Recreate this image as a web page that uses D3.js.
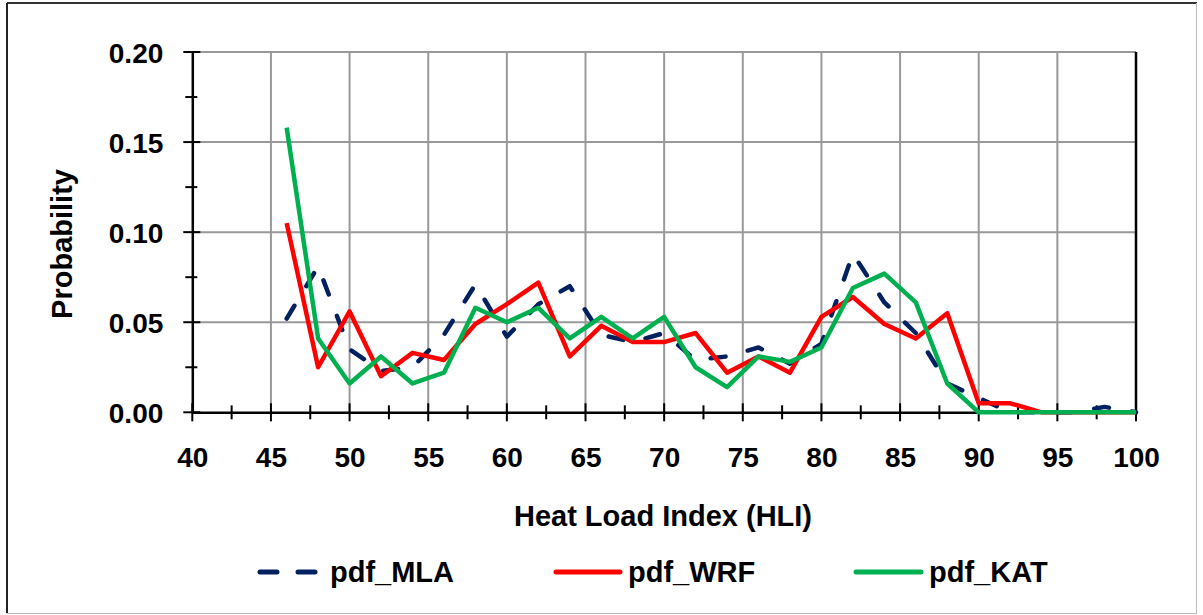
<!DOCTYPE html>
<html>
<head>
<meta charset="utf-8">
<script src="https://cdn.jsdelivr.net/npm/d3@7"></script>
<style>
  html, body { margin: 0; padding: 0; background: #fff; }
  svg text { font-family: "Liberation Sans", Arial, sans-serif; font-weight: bold; fill: #000; }
</style>
</head>
<body>
<svg id="chart" width="1203" height="615"></svg>
<script>
// ---- data ----
const hli = [46,48,50,52,54,56,58,60,62,64,66,68,70,72,74,76,78,80,82,84,86,88,90,92,94,96,98,100];
const pdfMLA = [0.052,0.081,0.035,0.023,0.025,0.043,0.071,0.042,0.060,0.070,0.043,0.039,0.044,0.029,0.031,0.036,0.027,0.038,0.088,0.061,0.044,0.016,0.008,0.000,0.000,0.000,0.003,0.000];
const pdfWRF = [0.105,0.025,0.056,0.020,0.033,0.029,0.049,0.060,0.072,0.031,0.048,0.039,0.039,0.044,0.022,0.031,0.022,0.053,0.064,0.049,0.041,0.055,0.005,0.005,0.000,0.000,0.000,0.000];
const pdfKAT = [0.158,0.041,0.016,0.031,0.016,0.022,0.058,0.050,0.058,0.041,0.053,0.041,0.053,0.025,0.014,0.031,0.028,0.036,0.069,0.077,0.061,0.016,0.000,0.000,0.000,0.000,0.000,0.000];
const seriesNames = ["pdf_MLA", "pdf_WRF", "pdf_KAT"];
const xTickValues = [40,45,50,55,60,65,70,75,80,85,90,95,100];
const xMinorTicks = [42.5,47.5,52.5,57.5,62.5,67.5,72.5,77.5,82.5,87.5,92.5,97.5];
const yTickValues = [0,0.05,0.10,0.15,0.20];
const yMinorTicks = [0.025,0.075,0.125,0.175];
const xTitle = "Heat Load Index (HLI)";
const yTitle = "Probability";

// ---- layout ----
const svg = d3.select("#chart");
const L = 192.3, R = 1136, T = 52, B = 412.3;
const x = d3.scaleLinear().domain([40, 100]).range([L, R]);
const y = d3.scaleLinear().domain([0, 0.20]).range([B, T]);

// outer frame
svg.append("line").attr("x1",7).attr("y1",3).attr("x2",1197).attr("y2",3).attr("stroke","#333").attr("stroke-width",2);
svg.append("line").attr("x1",7).attr("y1",3).attr("x2",7).attr("y2",613).attr("stroke","#222").attr("stroke-width",2);
svg.append("line").attr("x1",7).attr("y1",613.5).attr("x2",1197).attr("y2",613.5).attr("stroke","#bbb").attr("stroke-width",1);
svg.append("line").attr("x1",1196.5).attr("y1",3).attr("x2",1196.5).attr("y2",613).attr("stroke","#bbb").attr("stroke-width",1);

// gridlines
const grid = svg.append("g").attr("stroke", "#999").attr("stroke-width", 2);
grid.selectAll(".gx").data(xTickValues.filter(d => d > 40 && d < 100)).join("line")
  .attr("x1", d => x(d)).attr("x2", d => x(d)).attr("y1", T).attr("y2", B);
grid.selectAll(".gy").data(yTickValues.filter(d => d > 0)).join("line")
  .attr("x1", L).attr("x2", R).attr("y1", d => y(d)).attr("y2", d => y(d));

// right border of plot
svg.append("line").attr("x1", R).attr("x2", R).attr("y1", T).attr("y2", B).attr("stroke", "#000").attr("stroke-width", 2.5);

// axes
const fmt = d3.format(".2f");
const yAxis = svg.append("g").attr("transform", `translate(${L},0)`)
  .call(d3.axisLeft(y).tickValues(yTickValues).tickFormat(fmt).tickSize(0).tickPadding(29));
yAxis.select(".domain").attr("stroke", "#000").attr("stroke-width", 2.5);
yAxis.selectAll("text").attr("font-size", 28).attr("dy", "0.38em");

const xAxis = svg.append("g").attr("transform", `translate(0,${B})`)
  .call(d3.axisBottom(x).tickValues(xTickValues).tickFormat(d3.format("d")).tickSize(0).tickPadding(35));
xAxis.select(".domain").attr("stroke", "#000").attr("stroke-width", 2.5);
xAxis.selectAll("text").attr("font-size", 28);

// cross ticks
const tk = svg.append("g").attr("stroke", "#000").attr("stroke-width", 2);
tk.selectAll(".ymaj").data(yTickValues).join("line")
  .attr("x1", L - 9).attr("x2", L + 8).attr("y1", d => y(d)).attr("y2", d => y(d));
tk.selectAll(".ymin").data(yMinorTicks).join("line")
  .attr("x1", L - 7).attr("x2", L + 5).attr("y1", d => y(d)).attr("y2", d => y(d));
tk.selectAll(".xmaj").data(xTickValues).join("line")
  .attr("x1", d => x(d)).attr("x2", d => x(d)).attr("y1", B - 9).attr("y2", B + 9);
tk.selectAll(".xmin").data(xMinorTicks).join("line")
  .attr("x1", d => x(d)).attr("x2", d => x(d)).attr("y1", B - 7).attr("y2", B + 7);

// titles
svg.append("text").attr("x", 663).attr("y", 526).attr("text-anchor", "middle").attr("font-size", 29).text(xTitle);
svg.append("text").attr("transform", "translate(72,244) rotate(-90)").attr("text-anchor", "middle").attr("font-size", 29).text(yTitle);

// series
const styles = [
  { data: pdfMLA, color: "#002060", dash: "15,23" },
  { data: pdfWRF, color: "#FF0000", dash: null },
  { data: pdfKAT, color: "#00B050", dash: null }
];
const line = d3.line().x((d, i) => x(hli[i])).y(d => y(d));
styles.forEach(s => {
  svg.append("path").datum(s.data).attr("d", line)
    .attr("fill", "none").attr("stroke", s.color).attr("stroke-width", 4.5)
    .attr("stroke-linejoin", "round").attr("stroke-linecap", s.dash ? "round" : "butt")
    .attr("stroke-dasharray", s.dash);
});

// legend
const legendPos = [ { x1: 260, x2: 316, tx: 330 }, { x1: 556, x2: 620, tx: 628 }, { x1: 856, x2: 921, tx: 929 } ];
const ly = 572;
styles.forEach((s, i) => {
  const p = legendPos[i];
  svg.append("line").attr("x1", p.x1).attr("x2", p.x2).attr("y1", ly).attr("y2", ly)
    .attr("stroke", s.color).attr("stroke-width", 5).attr("stroke-linecap", "round")
    .attr("stroke-dasharray", s.dash ? "17,21" : null);
  svg.append("text").attr("x", p.tx).attr("y", 582).attr("font-size", 29).text(seriesNames[i]);
});
</script>
</body>
</html>
